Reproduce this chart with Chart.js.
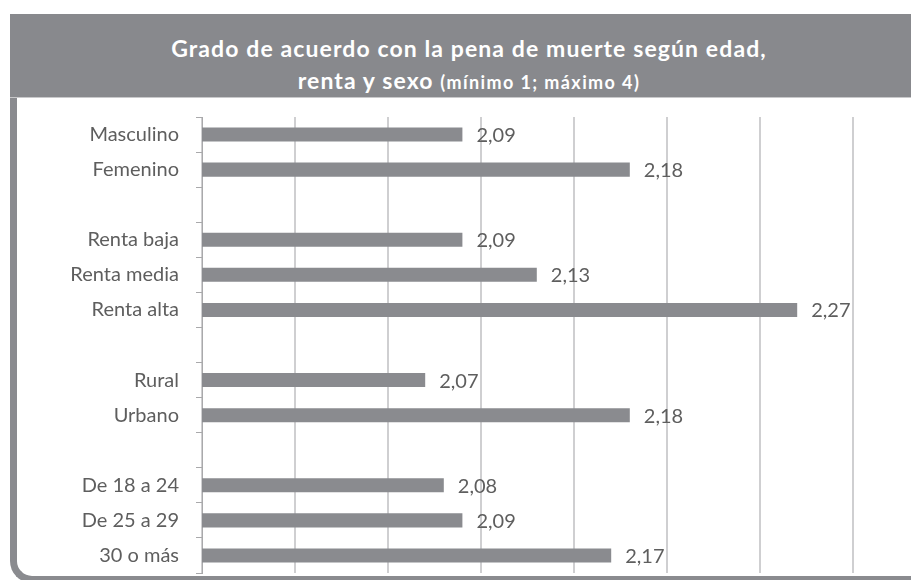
<!DOCTYPE html>
<html>
<head>
<meta charset="utf-8">
<script src="https://cdn.jsdelivr.net/npm/chart.js@4.4.0/dist/chart.umd.min.js"></script>
<style>
  html, body { margin: 0; padding: 0; background: #fff; }
  body { width: 911px; height: 580px; position: relative; overflow: hidden; }
  #frame {
    position: absolute; left: 10px; top: 90px; width: 960px; height: 493px;
    box-sizing: border-box; border-left: 7px solid #8a8b8f; border-bottom: 7px solid #8a8b8f;
    border-bottom-left-radius: 22px;
  }
  #header {
    position: absolute; left: 10px; top: 14px; width: 918px; height: 83px;
    background: #88898d; color: #fff; text-align: center;
    font-family: Lato, "Open Sans", sans-serif; font-weight: bold;
    border-bottom: 1px solid #c9c9cb;
  }
  #header .l1 { position: absolute; left: 0; right: 0; top: 20px; font-size: 23px; line-height: 28px; letter-spacing: 1.1px; }
  #header .l2 { position: absolute; left: 0; right: 0; top: 52px; font-size: 23px; line-height: 28px; letter-spacing: 1.1px; }
  #header .l2 span { font-size: 18px; letter-spacing: 1.4px; }
  #wrap { position: absolute; left: 17px; top: 97px; width: 894px; height: 483px; }
</style>
</head>
<body>
<div id="frame"></div>
<div id="header">
  <div class="l1">Grado de acuerdo con la pena de muerte según edad,</div>
  <div class="l2">renta y sexo <span>(mínimo 1; máximo 4)</span></div>
</div>
<div id="wrap"><canvas id="grafico"></canvas></div>
<script>
// categorias (las vacias separan los grupos)
var categorias = ['Masculino', 'Femenino', '', 'Renta baja', 'Renta media', 'Renta alta', '', 'Rural', 'Urbano', '', 'De 18 a 24', 'De 25 a 29', '30 o más'];
var valores = [2.09, 2.18, null, 2.09, 2.13, 2.27, null, 2.07, 2.18, null, 2.08, 2.09, 2.17];
var ejeMin = 1.95;
var ejeMax = 2.30;
var paso = 0.05;

Chart.defaults.font.family = 'Lato, "Open Sans", sans-serif';

// etiquetas de valor al final de cada barra
var etiquetasValor = {
  id: 'etiquetasValor',
  afterDatasetsDraw: function(chart) {
    var ctx = chart.ctx;
    var meta = chart.getDatasetMeta(0);
    ctx.save();
    ctx.font = '20px Lato, "Open Sans", sans-serif';
    ctx.fillStyle = '#5e5e5e';
    ctx.textAlign = 'left';
    ctx.textBaseline = 'middle';
    meta.data.forEach(function(barra, i) {
      var v = valores[i];
      if (v === null) return;
      ctx.fillText(v.toFixed(2).replace('.', ','), barra.x + 14, barra.y + 1);
    });
    ctx.restore();
  }
};

var ctx = document.getElementById('grafico');
new Chart(ctx, {
  type: 'bar',
  data: {
    labels: categorias,
    datasets: [{
      data: valores,
      backgroundColor: '#8a8b8f',
      borderWidth: 0,
      categoryPercentage: 1.0,
      barPercentage: 0.4
    }]
  },
  options: {
    indexAxis: 'y',
    responsive: true,
    maintainAspectRatio: false,
    animation: false,
    layout: { padding: { top: 20, right: 58, bottom: 7, left: 0 } },
    plugins: {
      legend: { display: false },
      tooltip: { enabled: false }
    },
    scales: {
      x: {
        min: ejeMin,
        max: ejeMax,
        afterFit: function(scale) { scale.height = 0; },
        ticks: { display: false, stepSize: paso },
        grid: { color: '#cfcfd1', lineWidth: 2, drawTicks: false },
        border: { display: false }
      },
      y: {
        afterFit: function(scale) {
          scale.width = 185;
          scale.paddingTop = 0;
          scale.paddingBottom = 0;
        },
        ticks: { color: '#5e5e5e', font: { size: 20 }, padding: 17, autoSkip: false },
        grid: { offset: true, drawOnChartArea: false, drawTicks: true, tickLength: 6, color: '#a9a9ab' },
        border: { display: true, color: '#a9a9ab', width: 1 }
      }
    }
  },
  plugins: [etiquetasValor]
});
</script>
</body>
</html>
